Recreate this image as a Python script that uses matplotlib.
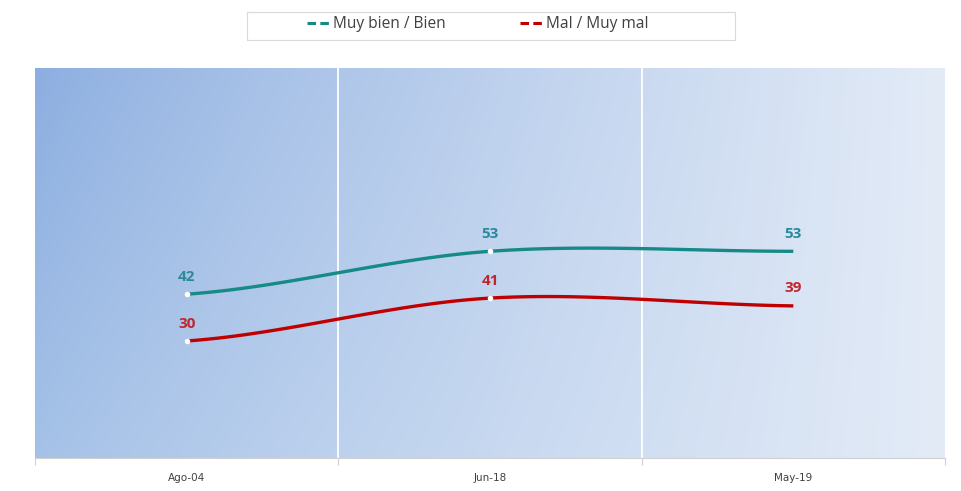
import numpy as np
import matplotlib
matplotlib.use("Agg")
import matplotlib.pyplot as plt
from matplotlib.lines import Line2D
from matplotlib.patches import Rectangle

categories = ["Ago-04", "Jun-18", "May-19"]
good = [42, 53, 53]
bad = [30, 41, 39]
series_names = ["Muy bien / Bien", "Mal / Muy mal"]

TEAL = "#168a86"
RED = "#c00000"
TEAL_LBL = "#2a8a9c"
RED_LBL = "#c0262c"


def smooth(xs, ys, n=60):
    # Catmull-Rom style smoothing (similar to Excel smoothed lines)
    xs = np.asarray(xs, float)
    ys = np.asarray(ys, float)
    px = np.concatenate([[2 * xs[0] - xs[1]], xs, [2 * xs[-1] - xs[-2]]])
    py = np.concatenate([[ys[0]], ys, [ys[-1]]])
    outx, outy = [], []
    for i in range(1, len(px) - 2):
        p0, p1, p2, p3 = (np.array([px[j], py[j]]) for j in range(i - 1, i + 3))
        c1 = p1 + (p2 - p0) / 6
        c2 = p2 - (p3 - p1) / 6
        t = np.linspace(0, 1, n)[:, None]
        b = ((1 - t) ** 3) * p1 + 3 * ((1 - t) ** 2) * t * c1 + 3 * (1 - t) * t ** 2 * c2 + t ** 3 * p2
        outx.extend(b[:, 0])
        outy.extend(b[:, 1])
    return np.array(outx), np.array(outy)


fig = plt.figure(figsize=(9.61, 4.91), dpi=100)
ax = fig.add_axes([35 / 961, 1 - 458 / 491, 910 / 961, 390 / 491])

x = np.arange(len(categories))
ax.set_xlim(-0.5, len(categories) - 0.5)
ax.set_ylim(0, 100)

# gradient background
nx, ny = 300, 100
gx = np.linspace(0, 1, nx)[None, :]
gy = np.linspace(0, 1, ny)[:, None]
c_left_top = np.array([0x8c, 0xae, 0xe0]) / 255
c_left_bot = np.array([0xa4, 0xc1, 0xe7]) / 255
c_right = np.array([0xe3, 0xeb, 0xf7]) / 255
left = c_left_top[None, None, :] * (1 - gy[..., None]) + c_left_bot[None, None, :] * gy[..., None]
img = left * (1 - gx[..., None] ** 0.85) + c_right[None, None, :] * gx[..., None] ** 0.85
ax.imshow(img, extent=(-0.5, len(categories) - 0.5, 0, 100), origin="upper",
          aspect="auto", zorder=0, interpolation="bilinear")

for b in np.arange(0.5, len(categories) - 0.5, 1):
    ax.axvline(b, color="white", lw=1.3, zorder=1)

for vals, col, lcol in [(good, TEAL, TEAL_LBL), (bad, RED, RED_LBL)]:
    sx, sy = smooth(x, vals)
    ax.plot(sx, sy, color=col, lw=2.4, zorder=3, solid_capstyle="butt")
    ax.scatter(x[:2], np.array(vals)[:2], s=16, color="white", zorder=4, linewidths=0)
    for xi, v in zip(x, vals):
        ax.annotate(f"{v}", (xi, v), xytext=(0, 7.5), textcoords="offset points",
                    ha="center", va="bottom", color=lcol, fontsize=11,
                    fontweight="bold", family="Open Sans", zorder=5)

for s in ["top", "right", "left"]:
    ax.spines[s].set_visible(False)
ax.spines["bottom"].set_color("#d0d0d0")
ax.set_yticks([])
ax.set_xticks(np.arange(-0.5, len(categories), 1), minor=False)
ax.set_xticklabels([])
ax.tick_params(axis="x", which="major", length=5, color="#d0d0d0")
ax.set_xticks(x, minor=True)
ax.set_xticklabels(categories, minor=True, fontsize=7.5, color="#404040")
ax.tick_params(axis="x", which="minor", length=0, pad=11)

# legend frame
fig.patches.append(Rectangle((247 / 961, 1 - 40 / 491), 488 / 961, 28 / 491,
                             transform=fig.transFigure, facecolor="white",
                             edgecolor="#d9d9d9", lw=0.8, zorder=0))
handles = [Line2D([0], [0], color=TEAL, lw=2.2, dashes=(2.8, 1.4)),
           Line2D([0], [0], color=RED, lw=2.2, dashes=(2.8, 1.4))]
leg = fig.legend(handles, series_names, loc="center",
                 bbox_to_anchor=(478 / 961, 1 - 24 / 491), ncol=2,
                 frameon=False, handlelength=1.5,
                 handletextpad=0.15, columnspacing=4.8,
                 prop={"family": "Open Sans", "size": 11.2})
for t in leg.get_texts():
    t.set_color("#404040")

fig.savefig("out.png", dpi=100)
